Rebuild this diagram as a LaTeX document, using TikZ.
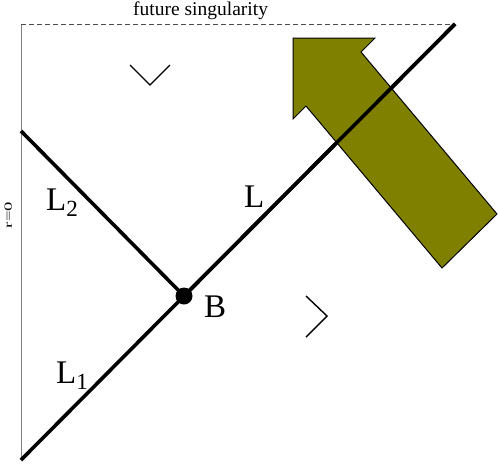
\documentclass[tikz,border=0pt]{standalone}
\usepackage{fontspec}
\setmainfont{Liberation Serif}
\definecolor{arrowolive}{RGB}{128,128,0}
\begin{document}
\begin{tikzpicture}[x=1pt,y=-1pt,line join=miter,
	nullray/.style={line width=3.6pt,color=black},
	lbl/.style={anchor=base west,inner sep=0pt,font=\fontsize{33}{36}\selectfont},
	chev/.style={line width=1.4pt}]
	\useasboundingbox (0,0) rectangle (498,464);
	\coordinate (O) at (21,460);
	\coordinate (T) at (21,24);
	\coordinate (E) at (455,24);
	\coordinate (S) at (21,131);
	\coordinate (B) at (184,296);
	\draw[gray,line width=1pt] (O)--(T);
	\draw[dashed,dash pattern=on 5pt off 3pt,line width=0.8pt,color=black!70] (T)--(E);
	\node[anchor=base west,inner sep=0pt,font=\fontsize{19.5}{21}\selectfont] (fs) at (133,15) {future singularity};
	\node[anchor=base,inner sep=0pt,rotate=90,font=\fontsize{11}{13}\selectfont] (r0) at (12,215) {\scalebox{1.7}[1]{r=0}};
	\draw[nullray] (O)--(B)--(E);
	\draw[nullray] (S)--(B);
	\fill (B) circle(8.5pt);
	\node[lbl] (lL1) at (56,383) {L\textsubscript{1}};
	\node[lbl] (lL2) at (46,210) {L\textsubscript{2}};
	\node[lbl] (lL) at (244,207) {L};
	\node[lbl] (lB) at (204,317) {B};
	\draw[chev] (130,65)--(150,85)--(170,65);
	\draw[chev] (306,296)--(327,316)--(306,337);
	\draw[fill=arrowolive,line width=1pt] (293,38)--(375,38)--(361,52)--(497,214)--(442,268)--(306,106)--(293,119)--cycle;
	\draw[nullray] (B)--(E);
\end{tikzpicture}
\end{document}
